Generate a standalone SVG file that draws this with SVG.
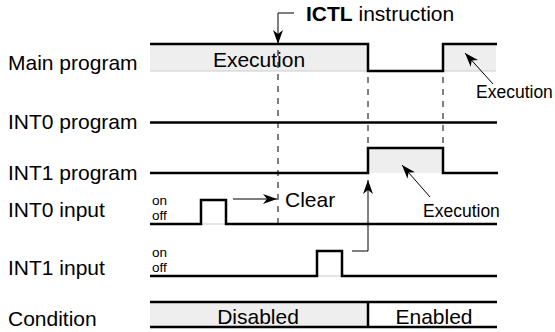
<svg xmlns="http://www.w3.org/2000/svg" width="555" height="332" viewBox="0 0 555 332">
<defs>
<marker id="ahL" viewBox="0 0 14 10" refX="14" refY="5" markerWidth="14" markerHeight="10" markerUnits="userSpaceOnUse" orient="auto"><path d="M0,0 L14,5 L0,10 L4,5 Z" fill="#000"/></marker>
</defs>
<style>
text{font-family:"Liberation Sans",Arial,sans-serif;fill:#000}
.lbl{font-size:21px}
.sm{font-size:17.5px}
.oo{font-size:13.5px}
.sig{fill:none;stroke:#000;stroke-width:2.5}
.fill{fill:#eeeeee;stroke:none}
.dash{stroke:#000;stroke-width:1;stroke-dasharray:6,6;fill:none}
.thin{fill:none;stroke:#000;stroke-width:1}
.gap{stroke:#ddd;stroke-width:1.5}
</style>
<g id="labels">
<text class="lbl" x="8" y="70">Main program</text>
<text class="lbl" x="8" y="129">INT0 program</text>
<text class="lbl" x="8" y="180">INT1 program</text>
<text class="lbl" x="8" y="217">INT0 input</text>
<text class="lbl" x="8" y="275">INT1 input</text>
<text class="lbl" x="8" y="326">Condition</text>
</g>
<g id="main-program">
<rect class="fill" x="150" y="45" width="218" height="26"/>
<line x1="150" y1="71" x2="368" y2="71" stroke="#ccc" stroke-width="1"/>
<rect class="fill" x="443" y="45" width="53" height="26"/>
<line x1="443" y1="71" x2="496" y2="71" stroke="#ccc" stroke-width="1"/>
<polyline class="sig" points="150,44 368,44 368,71 443,71 443,44 497,44"/>
<text class="lbl" x="259" y="67" text-anchor="middle">Execution</text>
</g>
<g id="int0-program">
<line class="sig" x1="150" y1="122.5" x2="497" y2="122.5"/>
</g>
<g id="int1-program">
<rect class="fill" x="368" y="149" width="75" height="24"/>
<polyline class="sig" points="150,173 368,173 368,148 443,148 443,173 498,173"/>
</g>
<g id="int0-input">
<text class="oo" x="152" y="205">on</text>
<text class="oo" x="152" y="220">off</text>
<line class="gap" x1="201" y1="224" x2="226" y2="224"/>
<polyline class="sig" points="150,224 201,224 201,200 226,200 226,224 497,224"/>
</g>
<g id="int1-input">
<text class="oo" x="152" y="257">on</text>
<text class="oo" x="152" y="272">off</text>
<line class="gap" x1="317" y1="276" x2="342" y2="276"/>
<polyline class="sig" points="150,276 317,276 317,251 342,251 342,276 497,276"/>
</g>
<g id="condition">
<rect class="fill" x="150" y="302" width="218" height="25"/>
<line class="sig" x1="150" y1="302" x2="497" y2="302"/>
<line class="sig" x1="150" y1="327" x2="497" y2="327"/>
<line class="sig" x1="368" y1="302" x2="368" y2="327"/>
<text class="lbl" x="258" y="324" text-anchor="middle">Disabled</text>
<text class="lbl" x="434" y="324" text-anchor="middle">Enabled</text>
</g>
<g id="connectors">
<line class="dash" x1="278" y1="50" x2="278" y2="224"/>
<line class="dash" x1="368" y1="77" x2="368" y2="148"/>
<line class="dash" x1="443" y1="77" x2="443" y2="148"/>
<polyline class="thin" points="294,13 278,13 278,44" marker-end="url(#ahL)"/>
<line class="thin" x1="233" y1="199" x2="277" y2="199" marker-end="url(#ahL)"/>
<polyline class="thin" points="352,251 368,251 368,180" marker-end="url(#ahL)"/>
<line class="thin" x1="493" y1="84" x2="465" y2="53" marker-end="url(#ahL)"/>
<line class="thin" x1="430" y1="197" x2="402" y2="165" marker-end="url(#ahL)"/>
</g>
<g id="annotations">
<text class="lbl" x="306" y="21"><tspan font-weight="bold">ICTL</tspan> instruction</text>
<text class="lbl" x="285" y="207">Clear</text>
<text class="sm" x="476" y="98">Execution</text>
<text class="sm" x="423" y="217">Execution</text>
</g>
</svg>
